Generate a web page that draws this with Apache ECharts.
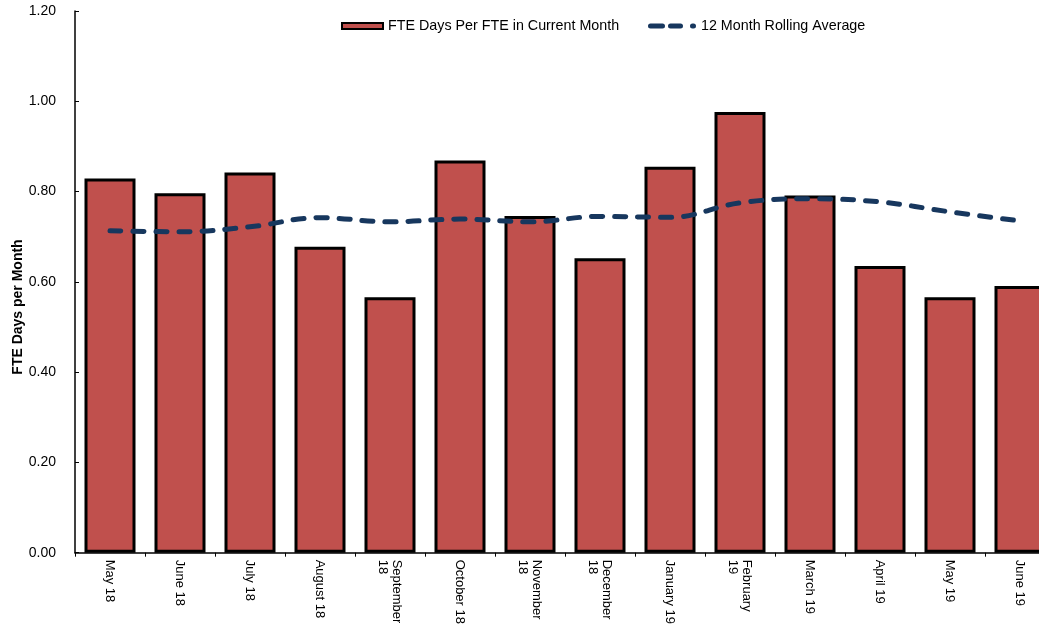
<!DOCTYPE html>
<html>
<head>
<meta charset="utf-8">
<script src="https://cdn.jsdelivr.net/npm/echarts@6/dist/echarts.min.js"></script>
<style>
  html, body { margin: 0; padding: 0; background: #fff; overflow: hidden; }
  #chart { width: 1055px; height: 627px; }
</style>
</head>
<body>
<div id="chart"></div>
<script>
// Monthly FTE days per FTE with the 12-month rolling average
const months = [
  'May 18', 'June 18', 'July 18', 'August 18', 'September\n18', 'October 18',
  'November\n18', 'December\n18', 'January 19', 'February\n19', 'March 19',
  'April 19', 'May 19', 'June 19'
];
const currentMonth = [0.829, 0.796, 0.842, 0.678, 0.566, 0.869, 0.746, 0.652, 0.855, 0.976, 0.791, 0.635, 0.566, 0.591];
const rollingAverage = [0.713, 0.711, 0.722, 0.742, 0.733, 0.739, 0.733, 0.745, 0.743, 0.775, 0.784, 0.777, 0.755, 0.735];
const yTicks = { min: 0, max: 1.2, step: 0.2 };

const font = 'Arial, "Liberation Sans", sans-serif';
const navy = '#17375e';
// three rounded dashes used as the rolling-average legend key
const dashIcon = 'path://M2.5,0H14.5A2.5,2.5 0 0 1 14.5,5H2.5A2.5,2.5 0 0 1 2.5,0Z' +
  'M22.5,0H32.5A2.5,2.5 0 0 1 32.5,5H22.5A2.5,2.5 0 0 1 22.5,0Z' +
  'M44.5,0H45.5A2.5,2.5 0 0 1 45.5,5H44.5A2.5,2.5 0 0 1 44.5,0Z';

const legendText = { fontFamily: font, fontSize: 14.3, color: '#000', lineHeight: 16 };

const chart = echarts.init(document.getElementById('chart'), null, { renderer: 'canvas' });

chart.setOption({
  backgroundColor: '#ffffff',
  animation: false,
  grid: { left: 75, right: 0, top: 11, bottom: 71, containLabel: false },
  legend: [
    {
      left: 341,
      top: 18,
      padding: 0,
      itemWidth: 41,
      itemHeight: 6,
      textStyle: legendText,
      data: [{ name: 'FTE Days Per FTE in Current Month', icon: 'rect' }]
    },
    {
      left: 648,
      top: 18,
      padding: 0,
      itemWidth: 48,
      itemHeight: 5,
      textStyle: legendText,
      itemStyle: { color: navy, borderWidth: 0 },
      data: [{ name: '12 Month Rolling Average', icon: dashIcon }]
    }
  ],
  xAxis: {
    type: 'category',
    data: months,
    boundaryGap: true,
    axisLine: { lineStyle: { color: '#000', width: 1.5 } },
    axisTick: { show: true, inside: false, length: 4, interval: 0, lineStyle: { color: '#000' } },
    axisLabel: {
      interval: 0,
      rotate: -90,
      margin: 7,
      fontFamily: font,
      fontSize: 13,
      color: '#000',
      lineHeight: 14
    },
    splitLine: { show: false }
  },
  yAxis: {
    type: 'value',
    min: yTicks.min,
    max: yTicks.max,
    interval: yTicks.step,
    axisLine: { show: true, lineStyle: { color: '#000', width: 1.5 } },
    axisTick: { show: true, inside: true, length: 4, lineStyle: { color: '#000' } },
    axisLabel: {
      margin: 19,
      fontFamily: font,
      fontSize: 14,
      color: '#000',
      formatter: v => v.toFixed(2)
    },
    splitLine: { show: false }
  },
  graphic: [{
    type: 'text',
    x: 18,
    y: 307,
    rotation: Math.PI / 2,
    style: {
      text: 'FTE Days per Month',
      fontFamily: font,
      fontSize: 14,
      fontWeight: 'bold',
      fill: '#000',
      align: 'center',
      verticalAlign: 'middle'
    }
  }],
  series: [
    {
      name: 'FTE Days Per FTE in Current Month',
      type: 'bar',
      data: currentMonth,
      barWidth: 51,
      itemStyle: { color: '#c0504d', borderColor: '#000', borderWidth: 3 },
      z: 2
    },
    {
      name: '12 Month Rolling Average',
      type: 'line',
      data: rollingAverage,
      smooth: 0.4,
      showSymbol: false,
      symbol: 'none',
      lineStyle: { color: navy, width: 5, type: [11, 12], cap: 'round' },
      itemStyle: { color: navy },
      z: 3
    }
  ]
});
</script>
</body>
</html>
